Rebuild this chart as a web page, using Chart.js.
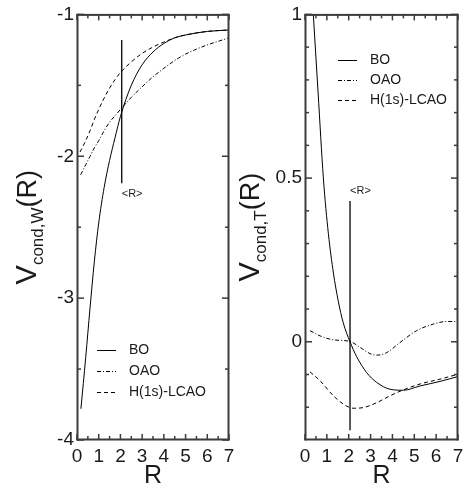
<!DOCTYPE html>
<html>
<head>
<meta charset="utf-8">
<script src="https://cdn.jsdelivr.net/npm/chart.js@4.4.1/dist/chart.umd.min.js"></script>
<style>
  body { margin: 0; background: #fff; }
  #wrap { position: relative; width: 464px; height: 486px; }
  canvas { position: absolute; top: 0; }
</style>
</head>
<body>
<div id="wrap">
  <canvas id="panelW" width="242" height="486" style="left:0"></canvas>
  <canvas id="panelT" width="232" height="486" style="left:232px"></canvas>
</div>
<script>
// values
const xTicks = [0, 1, 2, 3, 4, 5, 6, 7];
const xMinorTicks = [0.5, 1.5, 2.5, 3.5, 4.5, 5.5, 6.5];

const yTicksW = [-4, -3, -2, -1];
const yMinorTicksW = [-3.5, -2.5, -1.5];
const yTicksT = [0, 0.5, 1];
const yMinorTicksT = [-0.2, -0.1, 0.1, 0.2, 0.3, 0.4, 0.6, 0.7, 0.8, 0.9];

const seriesNames = ['BO', 'OAO', 'H(1s)-LCAO'];

// left panel: V_cond,W(R)
const rBoW = [0.18, 0.4, 0.6, 0.8, 1.0, 1.25, 1.5, 1.75, 2.0, 2.5, 3.0, 3.5, 4.0, 4.5, 5.0, 6.0, 7.0];
const vBoW = [-3.78, -3.42, -3.07, -2.74, -2.47, -2.22, -2.03, -1.87, -1.72, -1.5, -1.355, -1.265, -1.205, -1.165, -1.145, -1.12, -1.11];
const rOaoW = [0.17, 0.4, 0.6, 0.8, 1.0, 1.25, 1.5, 1.75, 2.0, 2.5, 3.0, 3.5, 4.0, 4.5, 5.0, 5.5, 6.0, 6.5, 7.0];
const vOaoW = [-2.13, -2.06, -2.0, -1.94, -1.89, -1.82, -1.76, -1.715, -1.67, -1.585, -1.51, -1.44, -1.38, -1.325, -1.28, -1.245, -1.215, -1.19, -1.165];
const rLcaoW = [0.14, 0.4, 0.6, 0.8, 1.0, 1.25, 1.5, 1.75, 2.0, 2.5, 3.0, 3.5, 4.0, 4.5, 5.0, 6.0, 7.0];
const vLcaoW = [-1.97, -1.89, -1.82, -1.74, -1.67, -1.59, -1.52, -1.46, -1.41, -1.335, -1.275, -1.23, -1.195, -1.165, -1.145, -1.12, -1.11];

// right panel: V_cond,T(R)
const rBoT = [0.38, 0.6, 0.84, 1.07, 1.3, 1.52, 1.75, 2.06, 2.36, 2.82, 3.28, 3.89, 4.5, 5.26, 6.18, 7.0];
const vBoT = [1.0, 0.76, 0.5, 0.33, 0.21, 0.125, 0.058, 0.0, -0.045, -0.094, -0.124, -0.145, -0.148, -0.135, -0.121, -0.106];
const rOaoT = [0.23, 0.69, 1.3, 2.06, 2.52, 2.97, 3.28, 3.74, 4.35, 5.11, 5.87, 6.48, 7.0];
const vOaoT = [0.034, 0.018, 0.006, 0.001, -0.017, -0.036, -0.041, -0.033, -0.002, 0.034, 0.054, 0.062, 0.062];
const rLcaoT = [0.23, 0.69, 1.3, 1.75, 2.21, 2.67, 3.28, 3.89, 4.5, 5.26, 6.18, 7.0];
const vLcaoT = [-0.092, -0.119, -0.165, -0.19, -0.203, -0.201, -0.186, -0.165, -0.147, -0.129, -0.114, -0.099];

// mean bond length marker
const rMean = 2.06;
const rMeanSpanW = [-1.18, -2.19];
const rMeanSpanT = [0.43, -0.27];

const FONT = "'Liberation Sans', Arial, Helvetica, sans-serif";
const INK = '#1a1a1a';
const dashes = [[], [4, 2, 1, 2], [4, 3]];

function pts(rs, vs) {
  return rs.map((r, i) => ({ x: r, y: vs[i] }));
}

function curves(sets) {
  return sets.map((s, i) => ({
    label: seriesNames[i],
    data: pts(s[0], s[1]),
    borderColor: '#000',
    borderWidth: 1,
    borderDash: dashes[i],
    pointRadius: 0,
    cubicInterpolationMode: 'monotone',
    fill: false
  }));
}

function meanLine(span) {
  return {
    label: '',
    data: pts([rMean, rMean], span),
    borderColor: '#000',
    borderWidth: 1.3,
    pointRadius: 0,
    fill: false
  };
}

// per-panel extras, keyed by canvas id
const extras = {
  panelW: { yMajor: yTicksW, yMinor: yMinorTicksW, sub: 'cond,W', titleX: 36,
            labelAt: rMeanSpanW[1], labelDy: 11, legendX: 97, legendY: 350, legendStep: 21 },
  panelT: { yMajor: yTicksT, yMinor: yMinorTicksT, sub: 'cond,T', titleX: 27,
            labelAt: rMeanSpanT[0], labelDy: -10, legendX: 106, legendY: 60, legendStep: 20 }
};

// box with inward ticks on all four sides
const frame = {
  id: 'frame',
  afterDraw(chart) {
    const o = extras[chart.canvas.id];
    const ctx = chart.ctx;
    const a = chart.chartArea;
    const x = chart.scales.x, y = chart.scales.y;
    const w = a.right - a.left, h = a.bottom - a.top;
    ctx.save();
    ctx.fillStyle = '#3c3c3c';
    ctx.fillRect(a.left - 0.5, a.top - 0.5, w + 1, 2);
    ctx.fillRect(a.left - 0.5, a.bottom - 1.5, w + 1, 2);
    ctx.fillRect(a.left - 0.5, a.top - 0.5, 2, h + 1);
    ctx.fillRect(a.right - 1.5, a.top - 0.5, 2, h + 1);
    xTicks.concat(xMinorTicks).forEach(v => {
      const len = Number.isInteger(v) ? 6 : 4;
      const px = x.getPixelForValue(v) - 0.75;
      ctx.fillRect(px, a.bottom - len, 1.5, len);
      ctx.fillRect(px, a.top, 1.5, len);
    });
    o.yMajor.concat(o.yMinor).forEach((v, i) => {
      const len = i < o.yMajor.length ? 7 : 4;
      const py = y.getPixelForValue(v) - 0.75;
      ctx.fillRect(a.left, py, len, 1.5);
      ctx.fillRect(a.right - len, py, len, 1.5);
    });
    ctx.restore();
  }
};

// titles, legend and <R> label
const labels = {
  id: 'labels',
  afterDraw(chart) {
    const o = extras[chart.canvas.id];
    const ctx = chart.ctx;
    const a = chart.chartArea;
    const x = chart.scales.x, y = chart.scales.y;
    ctx.save();
    ctx.fillStyle = INK;
    ctx.font = '25px ' + FONT;
    ctx.textAlign = 'center';
    ctx.textBaseline = 'alphabetic';
    ctx.fillText('R', (a.left + a.right) / 2, 483);

    const parts = [
      { t: 'V', size: 29, dy: 0 },
      { t: o.sub, size: 17, dy: 7 },
      { t: '(R)', size: 27, dy: 0 }
    ];
    let total = 0;
    parts.forEach(p => { ctx.font = p.size + 'px ' + FONT; p.w = ctx.measureText(p.t).width; total += p.w; });
    ctx.save();
    ctx.translate(o.titleX, (a.top + a.bottom) / 2 + total / 2);
    ctx.rotate(-Math.PI / 2);
    ctx.textAlign = 'left';
    let cx = 0;
    parts.forEach(p => {
      ctx.font = p.size + 'px ' + FONT;
      ctx.fillText(p.t, cx, p.dy);
      cx += p.w;
    });
    ctx.restore();

    ctx.font = '11px ' + FONT;
    ctx.textAlign = 'left';
    ctx.textBaseline = 'middle';
    ctx.fillText('<R>', x.getPixelForValue(rMean), y.getPixelForValue(o.labelAt) + o.labelDy);

    ctx.font = '14px ' + FONT;
    ctx.strokeStyle = '#000';
    ctx.lineWidth = 1;
    seriesNames.forEach((name, i) => {
      const ly = o.legendY + i * o.legendStep + 0.5;
      ctx.beginPath();
      ctx.setLineDash(dashes[i]);
      ctx.moveTo(o.legendX, ly);
      ctx.lineTo(o.legendX + 19, ly);
      ctx.stroke();
      ctx.setLineDash([]);
      ctx.fillText(name, o.legendX + 32, ly);
    });
    ctx.restore();
  }
};

function makeChart(id, datasets, yMin, yMax, yMajor, yWidth, padRight) {
  return new Chart(document.getElementById(id), {
    type: 'line',
    data: { datasets: datasets },
    plugins: [frame, labels],
    options: {
      responsive: false,
      animation: false,
      layout: { padding: { top: 14, right: padRight, left: 0, bottom: 0 } },
      scales: {
        x: {
          type: 'linear',
          min: 0,
          max: 7,
          afterFit: s => { s.height = 46; s.paddingLeft = 0; s.paddingRight = 0; },
          afterBuildTicks: s => { s.ticks = xTicks.map(v => ({ value: v })); },
          grid: { display: false, drawTicks: false },
          border: { display: false },
          ticks: { color: INK, padding: 5, maxRotation: 0, font: { family: FONT, size: 19 } }
        },
        y: {
          type: 'linear',
          min: yMin,
          max: yMax,
          afterFit: s => { s.width = yWidth; },
          afterBuildTicks: s => { s.ticks = yMajor.map(v => ({ value: v })); },
          grid: { display: false, drawTicks: false },
          border: { display: false },
          ticks: {
            color: INK,
            padding: 3,
            font: { family: FONT, size: 19 },
            callback: v => String(v)
          }
        }
      },
      plugins: {
        legend: { display: false },
        tooltip: { enabled: false }
      }
    }
  });
}

makeChart('panelW',
  curves([[rBoW, vBoW], [rOaoW, vOaoW], [rLcaoW, vLcaoW]]).concat([meanLine(rMeanSpanW)]),
  -4, -1, yTicksW, 77, 13);

makeChart('panelT',
  curves([[rBoT, vBoT], [rOaoT, vOaoT], [rLcaoT, vLcaoT]]).concat([meanLine(rMeanSpanT)]),
  -0.3, 1, yTicksT, 73, 6);
</script>
</body>
</html>
